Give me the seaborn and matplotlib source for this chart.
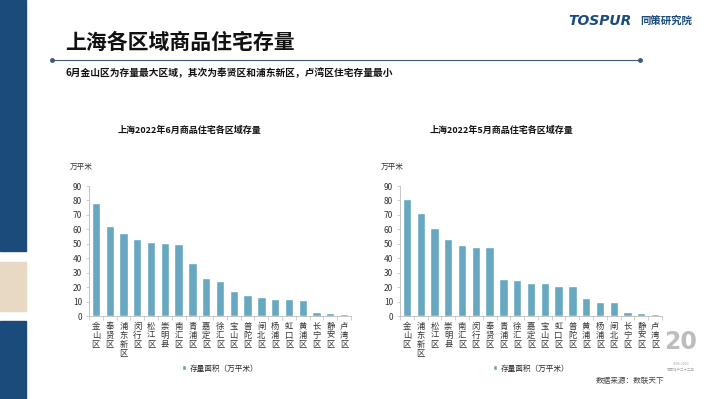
import matplotlib
matplotlib.use("Agg")
import matplotlib.pyplot as plt
from matplotlib.patches import Rectangle
from matplotlib.lines import Line2D
import seaborn as sns
import numpy as np

sns.set_style("white")
plt.rcParams['font.family'] = ['Noto Sans CJK SC', 'DejaVu Sans']

# June 2022 data
jun_districts = ["金山区", "奉贤区", "浦东新区", "闵行区", "松江区", "崇明县", "南汇区", "青浦区",
                 "嘉定区", "徐汇区", "宝山区", "普陀区", "闸北区", "杨浦区", "虹口区", "黄浦区",
                 "长宁区", "静安区", "卢湾区"]
jun_values = [78, 62, 57.5, 53, 51.5, 50.5, 50, 37, 26, 24.5, 17, 14.5, 13, 11.5, 11.5, 11.2, 3, 2, 1.5]

# May 2022 data
may_districts = ["金山区", "浦东新区", "松江区", "崇明县", "南汇区", "闵行区", "奉贤区", "青浦区",
                 "徐汇区", "嘉定区", "宝山区", "虹口区", "普陀区", "黄浦区", "杨浦区", "闸北区",
                 "长宁区", "静安区", "卢湾区"]
may_values = [81, 71.5, 61, 53, 49.5, 47.5, 47.5, 25.5, 25, 23, 23, 21, 20.5, 12.5, 10, 9.5, 3, 2, 1.5]

y_ticks = [0, 10, 20, 30, 40, 50, 60, 70, 80, 90]
bar_color = "#67A7BF"
navy = "#1B4B7A"

W, H = 710, 399
fig = plt.figure(figsize=(W / 100, H / 100), dpi=100)
fig.patch.set_facecolor("white")


def px(x, y):
    return x / W, 1 - y / H


# left decoration strip
fig.patches.append(Rectangle((0, 1 - 251 / H), 26 / W, 251 / H, transform=fig.transFigure,
                             color=navy, zorder=0))
fig.patches.append(Rectangle((0, 1 - 311 / H), 26 / W, 49 / H, transform=fig.transFigure,
                             color="#E8D9C4", zorder=0))
fig.patches.append(Rectangle((0, 0), 26 / W, 78 / H, transform=fig.transFigure,
                             color=navy, zorder=0))

# header
fig.text(*px(65, 42), "上海各区域商品住宅存量", fontsize=15, fontweight="bold",
         color="#111111", va="center", ha="left")
fig.lines.append(Line2D([52 / W, 640 / W], [1 - 60 / H] * 2, transform=fig.transFigure,
                        color="#3D5A78", lw=0.8))
fig.lines.append(Line2D([52 / W, 640 / W], [1 - 60 / H] * 2, transform=fig.transFigure,
                        color="#3D5A78", lw=0, marker="o", markersize=2.5))
fig.text(*px(65, 73), "6月金山区为存量最大区域，其次为奉贤区和浦东新区，卢湾区住宅存量最小",
         fontsize=7, fontweight="bold", color="#111111", va="center", ha="left")
fig.text(*px(568, 21), "TOSPUR", fontsize=10, fontweight="heavy", style="italic",
         color=navy, va="center", ha="left", family=["DejaVu Sans"])
fig.text(*px(640, 21), "同策研究院", fontsize=7.5, fontweight="bold", style="italic",
         color=navy, va="center", ha="left")

# anniversary mark
fig.text(*px(681, 342), "20", fontsize=17, fontweight="bold", color="#BDBDBD",
         va="center", ha="center", family=["DejaVu Sans"])
fig.text(*px(681, 364), "1998-2020", fontsize=2.5, color="#AAAAAA", va="center", ha="center")
fig.text(*px(681, 369), "同策地产二十二年", fontsize=2.5, color="#AAAAAA", va="center", ha="center")
fig.text(*px(630, 381), "数据来源：数联天下", fontsize=5.5, color="#444444",
         va="center", ha="center")


def draw_panel(left_px, districts, values, title, title_x):
    ax = fig.add_axes([left_px / W, 1 - 316 / H, 262 / W, 130 / H])
    sns.barplot(x=districts, y=values, color=bar_color, width=0.6, ax=ax,
                label="存量面积（万平米）", saturation=1)
    ax.set_ylim(0, 90)
    ax.set_xlim(-0.5, len(districts) - 0.5)
    ax.set_yticks(y_ticks)
    ax.set_yticklabels([str(t) for t in y_ticks], fontsize=6, color="#333333")
    # stacked vertical category labels, one character per line
    ax.set_xticks(range(len(districts)))
    ax.set_xticklabels([])
    for i, name in enumerate(districts):
        for j, ch in enumerate(name):
            ax.annotate(ch, xy=(i, 0), xycoords=("data", "axes fraction"),
                        xytext=(0, -4 - j * 6.6), textcoords="offset points",
                        ha="center", va="top", fontsize=6, color="#333333")
    ax.tick_params(axis="x", length=0, pad=3)
    ax.tick_params(axis="y", length=2, width=0.5, color="#BBBBBB", pad=3, left=True)
    ax.set_xticks(np.arange(-0.5, len(districts), 1), minor=True)
    ax.tick_params(axis="x", which="minor", length=3, width=0.5, color="#BBBBBB",
                   direction="out", bottom=True)
    for s in ["top", "right"]:
        ax.spines[s].set_visible(False)
    for s in ["left", "bottom"]:
        ax.spines[s].set_color("#BBBBBB")
        ax.spines[s].set_linewidth(0.6)
    ax.set_xlabel("")
    ax.set_ylabel("")
    ax.legend(loc="upper center", bbox_to_anchor=(0.5, -0.32), frameon=False, fontsize=5.5,
              handlelength=0.6, handleheight=0.6, handletextpad=0.4)
    fig.text(*px(title_x, 130), title, fontsize=6.5, fontweight="bold", color="#111111",
             va="center", ha="center")
    fig.text(*px(left_px - 19, 167), "万平米", fontsize=5.5, color="#333333",
             va="center", ha="left")
    return ax


draw_panel(89, jun_districts, jun_values, "上海2022年6月商品住宅各区域存量", 190)
draw_panel(400, may_districts, may_values, "上海2022年5月商品住宅各区域存量", 502)

fig.savefig("out.png", dpi=100)
